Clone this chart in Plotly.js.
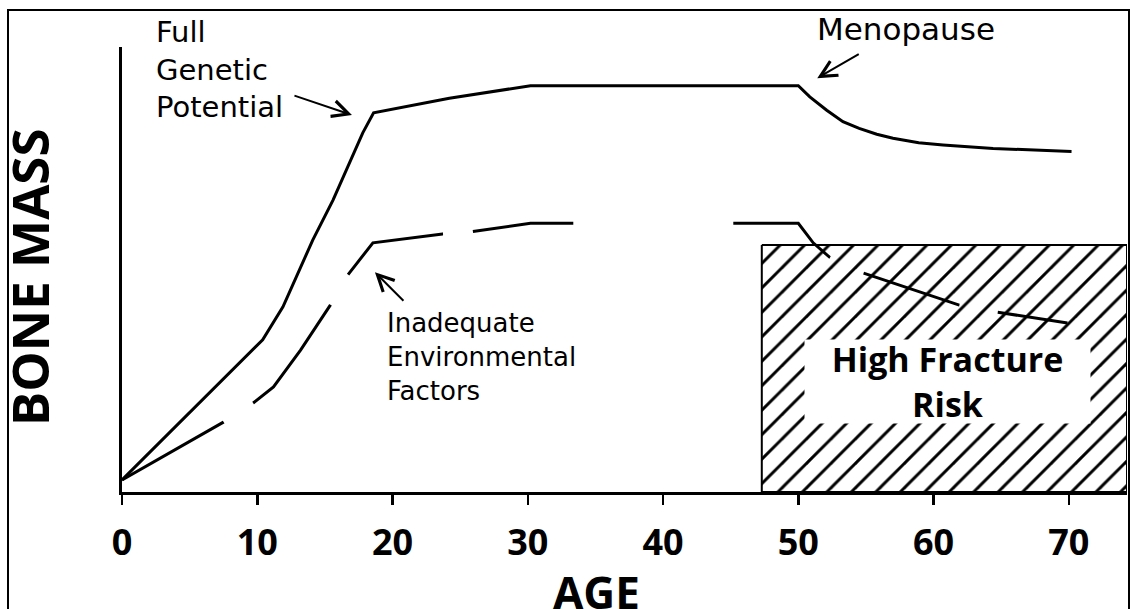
<!DOCTYPE html>
<html>
<head>
<meta charset="utf-8">
<script src="https://cdn.plot.ly/plotly-3.0.1.min.js"></script>
<style>
  html, body { margin: 0; padding: 0; background: #fff; }
  #wrap { position: relative; width: 1130px; height: 609px; overflow: hidden; }
  #chart { position: absolute; left: 0; top: 0; width: 1130px; height: 609px; }
  #frame { position: absolute; left: 7px; top: 9px; width: 1119px; height: 640px;
           border: 2px solid #000; pointer-events: none; }
</style>
</head>
<body>
<div id="wrap">
  <div id="chart"></div>
  <div id="frame"></div>
</div>
<script>
// ---- data ----
// Age (years) on x, bone mass (arbitrary 0-100 units) on y
const solidAge  = [0, 10.4, 11.9, 14.1, 15.6, 17.8, 18.6, 24.2, 30.2, 50, 50.85, 52.1, 53.3, 54.5, 55.8, 57, 58.9, 60.7, 64.4, 70.2];
const solidMass = [2.7, 34.2, 41.6, 56.6, 65.6, 80.7, 85.2, 88.5, 91.3, 91.3, 88.8, 85.8, 83.2, 81.7, 80.4, 79.5, 78.5, 78.0, 77.2, 76.5];

const dashedAge  = [0, 7.5, 9.7, 11.2, 13.2, 15.4, 16.7, 18.55, 23.7, 25.9, 30.2, 50, 51.1, 52.3, 54.8, 61.9, 64.7, 69.9];
const dashedMass = [2.7, 15.7, 20, 23.6, 31.9, 42, 48.8, 56, 58, 58.5, 60.4, 60.4, 56, 52.8, 49.2, 42, 40.4, 38];

// High fracture risk zone: age span and bone-mass threshold
const riskAge = [47.3, 74.3];
const riskThreshold = 55.5;

const tickAges   = [0, 10, 20, 30, 40, 50, 60, 70];
const tickLabels = ['0', '10', '20', '30', '40', '50', '60', '70'];

// ---- build the chart ----
const riskX = [riskAge[0], riskAge[1], riskAge[1], riskAge[0], riskAge[0]];
const riskY = [riskThreshold, riskThreshold, 0, 0, riskThreshold];

const traces = [
  {
    x: riskX, y: riskY, type: 'scatter', mode: 'lines',
    fill: 'toself',
    fillpattern: { shape: '/', size: 17.3, solidity: 0.17, fgcolor: '#000', bgcolor: '#fff', fillmode: 'replace' },
    line: { color: '#000', width: 2 },
    hoverinfo: 'skip', cliponaxis: false
  },
  {
    x: solidAge, y: solidMass, type: 'scatter', mode: 'lines',
    line: { color: '#000', width: 3 }, cliponaxis: false
  },
  {
    x: dashedAge, y: dashedMass, type: 'scatter', mode: 'lines',
    line: { color: '#000', width: 3,
            dash: '117px,35px,126px,35px,111px,30px,101px,160px,112px,37px,101px,39px,72px,40px' },
    cliponaxis: false
  }
];

const labelFont = (s) => ({ family: 'DejaVu Sans', size: s, color: '#000' });
const boldFont = (s) => ({ family: 'Open Sans', size: s, color: '#000', weight: 700 });

const layout = {
  width: 1130, height: 609, autosize: false,
  margin: { l: 122, r: 3, t: 47, b: 117 },
  paper_bgcolor: 'rgba(0,0,0,0)', plot_bgcolor: 'rgba(0,0,0,0)',
  showlegend: false,
  xaxis: {
    range: [0, 74.3], showgrid: false, zeroline: false,
    showline: true, linecolor: '#000', linewidth: 3,
    ticks: 'outside', ticklen: 10, tickwidth: 2.5, tickcolor: '#000',
    tickvals: tickAges, ticktext: tickLabels,
    tickfont: boldFont(36), ticklabelstandoff: 7
  },
  yaxis: {
    range: [0, 100], showgrid: false, zeroline: false,
    showline: true, linecolor: '#000', linewidth: 3,
    showticklabels: false, ticks: ''
  },
  annotations: [
    // axis titles
    { xref: 'paper', yref: 'paper', x: (596 - 122) / 1005, y: (492 - 592) / 445, xanchor: 'center', yanchor: 'middle',
      text: 'AGE', showarrow: false, font: boldFont(44) },
    { xref: 'paper', yref: 'paper', x: (29 - 122) / 1005, y: 0.483, xanchor: 'center', yanchor: 'middle',
      text: 'BONE MASS', textangle: -90, showarrow: false, font: boldFont(51) },
    // labels
    { xref: 'paper', yref: 'paper', x: (154 - 122) / 1005, y: 1 + (47 - 13) / 445, xanchor: 'left', yanchor: 'top',
      align: 'left', text: 'Full<br>Genetic<br>Potential', showarrow: false, font: labelFont(29) },
    { xref: 'paper', yref: 'paper', x: (906 - 122) / 1005, y: 1 + (47 - 9) / 445, xanchor: 'center', yanchor: 'top',
      text: 'Menopause', showarrow: false, font: labelFont(31) },
    { xref: 'paper', yref: 'paper', x: (385 - 122) / 1005, y: (492 - 306) / 445, xanchor: 'left', yanchor: 'top',
      align: 'left', text: 'Inadequate<br>Environmental<br>Factors', showarrow: false, font: labelFont(26) },
    { xref: 'paper', yref: 'paper', x: (947 - 122) / 1005, y: (492 - 381) / 445, xanchor: 'center', yanchor: 'middle',
      text: 'High Fracture<br>Risk', showarrow: false, font: boldFont(34),
      bgcolor: '#fff', width: 283, height: 81, borderpad: 1 },
    // arrows
    { x: 17.0, y: 84.7, ax: -59, ay: -20, text: '', showarrow: true, arrowhead: 5, arrowsize: 1.6, arrowwidth: 2, arrowcolor: '#000' },
    { x: 51.4, y: 93.0, ax: 43, ay: -25, text: '', showarrow: true, arrowhead: 5, arrowsize: 1.6, arrowwidth: 2, arrowcolor: '#000' },
    { x: 18.7, y: 49.4, ax: 30, ay: 30, text: '', showarrow: true, arrowhead: 5, arrowsize: 1.6, arrowwidth: 2, arrowcolor: '#000' }
  ]
};

Plotly.newPlot('chart', traces, layout, { staticPlot: true, displayModeBar: false });
</script>
</body>
</html>
